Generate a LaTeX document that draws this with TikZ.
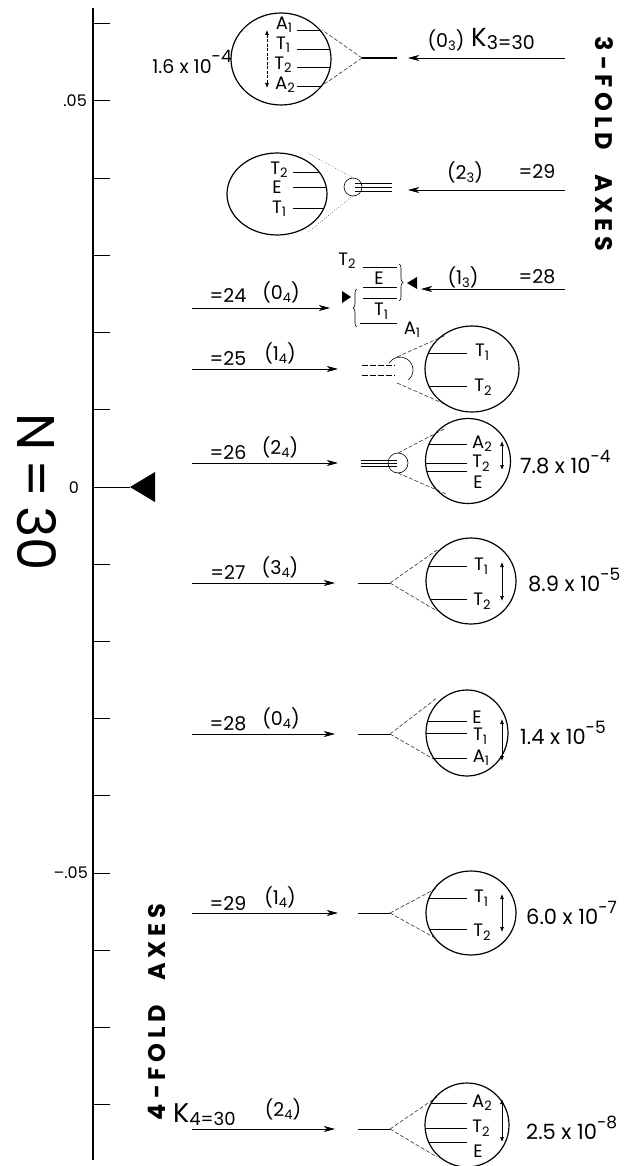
\documentclass[tikz,border=0pt]{standalone}
\usepackage{fontspec}
\setmainfont{Poppins}
\newfontfamily\lf{Poppins}
\newfontfamily\headfont[LetterSpace=20]{Poppins}
\usetikzlibrary{arrows.meta,decorations.pathreplacing}
\newcommand\fs[1]{\fontsize{#1}{#1}\selectfont}
\newcommand\sub[1]{\raisebox{-0.35ex}{\fs{13}#1}}
\newcommand\sups[1]{\raisebox{1.0ex}{\fs{17}#1}}
\begin{document}
\begin{tikzpicture}[x=1pt,y=-1pt,
  lbl/.style={inner sep=0pt,font=\lf\fs{19}},
  lvl/.style={inner sep=0pt,font=\lf\fs{18}},
  val/.style={inner sep=0pt,font=\lf\fs{21},anchor=west},
  axis/.style={line width=1.2pt},
  tick/.style={line width=1pt},
  arr/.style={line width=0.8pt,-{Stealth[length=11pt,width=6pt,inset=3pt]}},
  cone/.style={line width=0.6pt,dash pattern=on 4pt off 2pt,black!80},
  dots/.style={line width=0.6pt,dotted,black!75},
  bigc/.style={line width=1.2pt},
  level/.style={line width=0.9pt},
  dbl/.style={line width=0.7pt,{Latex[length=5pt,width=4pt]}-{Latex[length=5pt,width=4pt]}},
  brace/.style={decorate,decoration={brace,amplitude=4pt},line width=0.6pt},
  rot/.style={inner sep=0pt,anchor=base,font=\headfont\bfseries\fs{24}}
]
\useasboundingbox (0,0) rectangle (631,1166);

% ---------------- axis ----------------
\coordinate (atop) at (93,8);
\coordinate (abot) at (93,1160);
\draw[axis] (atop) -- (abot);
\foreach \k in {-8,...,6} { \draw[tick] (93,{487-77.2*\k}) -- ++(17,0); }
\coordinate (zero) at (93,487);
\coordinate (ztip) at (130,487);
\draw[tick] (zero) -- (ztip);
\fill (ztip) -- (155,472) -- (155,502) -- cycle;
\node[lbl,anchor=east,font=\lf\fs{16}] (l05) at (87,101) {.05};
\node[lbl,font=\lf\fs{16}] (l0) at (74,488) {0};
\node[lbl,anchor=east,font=\lf\fs{16}] (lm05) at (88,873) {\textendash.05};
\node[inner sep=0pt,anchor=base,font=\lf\fs{53},rotate=-90] (N) at (17,492) {N\,=\,30};

% ---------------- rotated headings ----------------
\node[rot,rotate=-90] (h3) at (595,144) {3-FOLD\quad AXES};
\node[rot,rotate=90] (h4) at (165,1012) {4-FOLD\quad AXES};

% ---------------- row 1 : K3=30 ----------------
\coordinate (r1s) at (565,58); \coordinate (r1e) at (408,58);
\draw[arr] (r1s) -- (r1e);
\node[lbl] (r1a) at (446,40) {(0\sub{3})};
\node[inner sep=0pt,anchor=base west,font=\lf] (r1b) at (471,47) {{\fs{26}K}\raisebox{-3pt}{\fs{19}3=30}};
\coordinate (ap1) at (362,58); \coordinate (ap1e) at (397,58);
\draw[line width=2pt] (ap1) -- (ap1e);
\coordinate (c1) at (281,59);
\draw[cone] (ap1) -- (322,30);
\draw[cone] (ap1) -- (320,87);
\draw[bigc] (c1) ellipse [x radius=50, y radius=46];
\begin{scope}
  \clip (c1) ellipse [x radius=50, y radius=46];
  \foreach \y in {30,49,67,86} { \draw[level,line width=0.7pt] (297,\y) -- (340,\y); }
\end{scope}
\node[lvl] (c1a) at (284,25) {A\sub{1}};
\node[lvl] (c1b) at (283,45) {T\sub{1}};
\node[lvl] (c1c) at (283,65) {T\sub{2}};
\node[lvl] (c1d) at (285,85) {A\sub{2}};
\coordinate (d1a) at (267,30); \coordinate (d1b) at (267,88);
\draw[dbl,dash pattern=on 3pt off 1.5pt] (d1a) -- (d1b);
\node[val,anchor=east,font=\lf\fs{19}] (v1) at (232,62) {1.6 x 10\sups{-4}};

% ---------------- row 2 : 2_3 = 29 ----------------
\coordinate (r2s) at (565,190); \coordinate (r2e) at (408,190);
\draw[arr] (r2s) -- (r2e);
\node[lbl] (r2a) at (465,172) {(2\sub{3})};
\node[lbl] (r2b) at (537,172) {=29};
\foreach \y in {183,187,191} { \draw[line width=0.5pt] (355,\y) -- (392,\y); }
\coordinate (s2) at (353,187);
\draw[line width=0.6pt] (s2) circle [radius=9];
\coordinate (c2) at (277,194);
\draw[dots] (308,153) -- (353,178);
\draw[dots] (308,232) -- (353,196);
\draw[bigc] (c2) ellipse [x radius=50, y radius=41];
\begin{scope}
  \clip (c2) ellipse [x radius=50, y radius=41];
  \foreach \y in {172,187,208} { \draw[level] (293,\y) -- (340,\y); }
\end{scope}
\node[lvl] (c2a) at (279,170) {T\sub{2}};
\node[lvl] (c2b) at (277,187) {E};
\node[lvl] (c2c) at (279,209) {T\sub{1}};

% ---------------- row 3 : O4 = 24 / 1_3 = 28 ----------------
\coordinate (r3s) at (565,289); \coordinate (r3e) at (421,289);
\draw[arr] (r3s) -- (r3e);
\node[lbl] (r3a) at (463,277) {(1\sub{3})};
\node[lbl] (r3b) at (537,277) {=28};
\coordinate (l3s) at (192,308); \coordinate (l3e) at (330,308);
\draw[arr] (l3s) -- (l3e);
\node[lbl] (l3a) at (228,296) {=24};
\node[lbl] (l3b) at (281,292) {(0\sub{4})};
\foreach \y in {267,287,298} { \draw[line width=0.6pt] (363,\y) -- (397,\y); }
\draw[line width=0.6pt] (360,323) -- (397,323);
\node[lvl] (b1) at (347,261) {T\sub{2}};
\node[lvl] (b2) at (379,278) {E};
\node[lvl] (b3) at (381,311) {T\sub{1}};
\node[lvl] (b4) at (412,330) {A\sub{1}};
\draw[brace] (399,264) -- (399,301);
\draw[brace] (357,327) -- (357,289);
\fill (342,291) -- (351,297) -- (342,303) -- cycle;
\fill (417,277) -- (407,283) -- (417,289) -- cycle;

% ---------------- row 4 : 1_4 = 25 ----------------
\coordinate (l4s) at (192,369); \coordinate (l4e) at (338,369);
\draw[arr] (l4s) -- (l4e);
\node[lbl] (l4a) at (228,359) {=25};
\node[lbl] (l4b) at (280,353) {(1\sub{4})};
\draw[line width=0.5pt,dash pattern=on 6pt off 2pt] (362,365) -- (395,365);
\draw[line width=0.5pt,dash pattern=on 6pt off 2pt] (362,375) -- (395,375);
\coordinate (s4) at (400,370);
\draw[line width=0.6pt] (s4) ++(212:13) arc[start angle=212,end angle=410,radius=13];
\draw[cone] (397,357) -- (446,335);
\draw[cone] (397,383) -- (447,405);
\coordinate (c4) at (472,369);
\draw[bigc] (c4) ellipse [x radius=47, y radius=43];
\begin{scope}
  \clip (c4) ellipse [x radius=47, y radius=43];
  \foreach \y in {353,386} { \draw[level] (420,\y) -- (467,\y); }
\end{scope}
\node[lvl] (c4a) at (482,352) {T\sub{1}};
\node[lvl] (c4b) at (483,387) {T\sub{2}};

% ---------------- row 5 : 2_4 = 26 ----------------
\coordinate (l5s) at (192,463); \coordinate (l5e) at (338,463);
\draw[arr] (l5s) -- (l5e);
\node[lbl] (l5a) at (228,453) {=26};
\node[lbl] (l5b) at (280,447) {(2\sub{4})};
\foreach \y in {460,463,466} { \draw[line width=0.5pt] (361,\y) -- (397,\y); }
\coordinate (s5) at (398,463);
\draw[line width=0.6pt] (s5) circle [radius=10];
\draw[cone] (398,453) -- (446,428);
\draw[cone] (398,473) -- (446,494);
\coordinate (c5) at (468,461);
\draw[bigc] (c5) ellipse [x radius=42.5, y radius=42.5];
\begin{scope}
  \clip (c5) ellipse [x radius=42.5, y radius=42.5];
  \foreach \y in {444,463,471} { \draw[level] (420,\y) -- (467,\y); }
\end{scope}
\node[lvl] (c5a) at (482,444) {A\sub{2}};
\node[lvl] (c5b) at (481,463) {T\sub{2}};
\node[lvl] (c5c) at (478,482) {E};
\coordinate (d5a) at (502,441); \coordinate (d5b) at (502,470);
\draw[dbl] (d5a) -- (d5b);
\node[val] (v5) at (520,462) {7.8 x 10\sups{-4}};

% ---------------- row 6 : 3_4 = 27 ----------------
\coordinate (l6s) at (192,583); \coordinate (l6e) at (335,583);
\draw[arr] (l6s) -- (l6e);
\node[lbl] (l6a) at (228,573) {=27};
\node[lbl] (l6b) at (280,567) {(3\sub{4})};
\coordinate (ap6) at (390,583);
\draw[line width=0.6pt] (358,583) -- (ap6);
\draw[cone] (ap6) -- (437,550);
\draw[cone] (ap6) -- (437,611);
\coordinate (c6) at (471,581);
\draw[bigc] (c6) ellipse [x radius=45, y radius=43];
\begin{scope}
  \clip (c6) ellipse [x radius=45, y radius=43];
  \foreach \y in {566,599} { \draw[level] (420,\y) -- (467,\y); }
\end{scope}
\node[lvl] (c6a) at (481,566) {T\sub{1}};
\node[lvl] (c6b) at (482,601) {T\sub{2}};
\coordinate (d6a) at (502,562); \coordinate (d6b) at (502,601);
\draw[dbl] (d6a) -- (d6b);
\node[val] (v6) at (528,580) {8.9 x 10\sups{-5}};

% ---------------- row 7 : 0_4 = 28 ----------------
\coordinate (l7s) at (192,734); \coordinate (l7e) at (335,734);
\draw[arr] (l7s) -- (l7e);
\node[lbl] (l7a) at (228,724) {=28};
\node[lbl] (l7b) at (281,718) {(0\sub{4})};
\coordinate (ap7) at (390,734);
\draw[line width=0.6pt] (358,734) -- (ap7);
\draw[cone] (ap7) -- (437,698);
\draw[cone] (ap7) -- (437,761);
\coordinate (c7) at (467,733);
\draw[bigc] (c7) ellipse [x radius=41, y radius=43];
\begin{scope}
  \clip (c7) ellipse [x radius=41, y radius=43];
  \foreach \y in {721,733,758} { \draw[level] (420,\y) -- (467,\y); }
\end{scope}
\node[lvl] (c7a) at (477,717) {E};
\node[lvl] (c7b) at (480,736) {T\sub{1}};
\node[lvl] (c7c) at (481,758) {A\sub{1}};
\coordinate (d7a) at (502,719); \coordinate (d7b) at (502,761);
\draw[dbl] (d7a) -- (d7b);
\node[val] (v7) at (520,733) {1.4 x 10\sups{-5}};

% ---------------- row 8 : 1_4 = 29 ----------------
\coordinate (l8s) at (192,913); \coordinate (l8e) at (338,913);
\draw[arr] (l8s) -- (l8e);
\node[lbl] (l8a) at (228,903) {=29};
\node[lbl] (l8b) at (280,897) {(1\sub{4})};
\coordinate (ap8) at (390,913);
\draw[line width=0.6pt] (358,913) -- (ap8);
\draw[cone] (ap8) -- (437,888);
\draw[cone] (ap8) -- (437,939);
\coordinate (c8) at (471,913);
\draw[bigc] (c8) ellipse [x radius=45, y radius=42];
\begin{scope}
  \clip (c8) ellipse [x radius=45, y radius=42];
  \foreach \y in {898,929} { \draw[level] (420,\y) -- (467,\y); }
\end{scope}
\node[lvl] (c8a) at (481,898) {T\sub{1}};
\node[lvl] (c8b) at (482,932) {T\sub{2}};
\coordinate (d8a) at (502,894); \coordinate (d8b) at (502,932);
\draw[dbl] (d8a) -- (d8b);
\node[val] (v8) at (526,913) {6.0 x 10\sups{-7}};

% ---------------- row 9 : K4=30 ----------------
\coordinate (l9s) at (192,1129); \coordinate (l9e) at (335,1129);
\draw[arr] (l9s) -- (l9e);
\node[inner sep=0pt,anchor=base west,font=\lf] (l9a) at (173,1122) {{\fs{27}K}\raisebox{-3pt}{\fs{18}4=30}};
\node[lbl] (l9b) at (283,1109) {(2\sub{4})};
\coordinate (ap9) at (390,1129);
\draw[line width=0.6pt] (358,1129) -- (ap9);
\draw[cone] (ap9) -- (437,1097);
\draw[cone] (ap9) -- (437,1157);
\coordinate (c9) at (467,1125);
\draw[bigc] (c9) ellipse [x radius=42, y radius=42];
\begin{scope}
  \clip (c9) ellipse [x radius=42, y radius=42];
  \foreach \y in {1103,1128,1142} { \draw[level] (420,\y) -- (467,\y); }
\end{scope}
\node[lvl] (c9a) at (482,1103) {A\sub{2}};
\node[lvl] (c9b) at (481,1128) {T\sub{2}};
\node[lvl] (c9c) at (478,1151) {E};
\coordinate (d9a) at (502,1099); \coordinate (d9b) at (502,1142);
\draw[dbl] (d9a) -- (d9b);
\node[val] (v9) at (526,1128) {2.5 x 10\sups{-8}};
\end{tikzpicture}
\end{document}
